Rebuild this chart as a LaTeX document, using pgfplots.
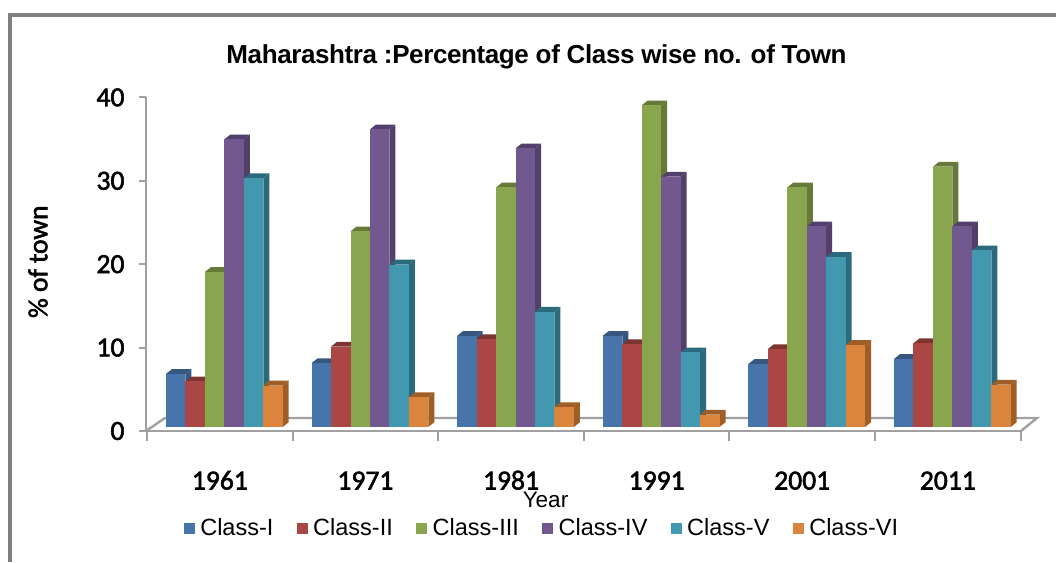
\documentclass[border=0pt]{standalone}
\usepackage{pgfplots}
\pgfplotsset{compat=1.18}
\usepackage{fontspec}
\setmainfont{Carlito}
\newfontfamily\semi[FakeBold=2]{Carlito}
\newfontfamily\lib{Liberation Sans}
\definecolor{cA}{HTML}{4674AB}\definecolor{dA}{HTML}{34567F}
\definecolor{cB}{HTML}{AA4643}\definecolor{dB}{HTML}{7E3431}
\definecolor{cC}{HTML}{89A54E}\definecolor{dC}{HTML}{657A39}
\definecolor{cD}{HTML}{71588F}\definecolor{dD}{HTML}{533F6B}
\definecolor{cE}{HTML}{4198AF}\definecolor{dE}{HTML}{2B6A7C}
\definecolor{cF}{HTML}{DB843D}\definecolor{dF}{HTML}{9E5E26}
\definecolor{gr}{HTML}{A0A0A0}
% #1 left edge of the bar (px), #2 value, #3 series letter
\newcommand\barD[3]{%
  \pgfmathsetmacro\xa{#1}%
  \pgfmathsetmacro\xb{#1+19.45}%
  \pgfmathsetmacro\xc{#1+19.45+6}%
  \pgfmathsetmacro\xd{#1+6}%
  \pgfmathsetmacro\xm{#1+9.725}%
  \pgfmathsetmacro\vt{#2+0.58}%
  \edef\temp{%
    \noexpand\addplot[fill=d#3,draw=none,forget plot] coordinates {(\xb,0) (\xc,0.58) (\xc,\vt) (\xb,#2)} --cycle;%
    \noexpand\addplot[fill=d#3,draw=none,forget plot] coordinates {(\xa,#2) (\xd,\vt) (\xc,\vt) (\xb,#2)} --cycle;%
    \noexpand\addplot[ybar,bar width=19.45pt,bar shift=0pt,fill=c#3,draw=none,forget plot] coordinates {(\xm,#2)};%
  }\temp}
% #1 left edge of the group, #2..#7 values
\newcommand\group[7]{%
  \pgfmathsetmacro\ga{#1}\pgfmathsetmacro\gb{#1+19.45}\pgfmathsetmacro\gc{#1+38.9}%
  \pgfmathsetmacro\gd{#1+58.35}\pgfmathsetmacro\ge{#1+77.8}\pgfmathsetmacro\gf{#1+97.25}%
  \edef\tempg{\noexpand\barD{\ga}{#2}{A}\noexpand\barD{\gb}{#3}{B}\noexpand\barD{\gc}{#4}{C}\noexpand\barD{\gd}{#5}{D}\noexpand\barD{\ge}{#6}{E}\noexpand\barD{\gf}{#7}{F}}\tempg}
\begin{document}
\begin{tikzpicture}[x=1pt,y=1pt]
\path[use as bounding box] (0,0) rectangle (1056,562);
% outer frame
\draw[line width=4pt,color=black!50] (10,0) -- (10,547) -- (1056,547);
% floor
\draw[line width=2.4pt,gr] (146,131) -- (165,144) -- (1037,144) -- (1021,131);
\begin{axis}[
  at={(146pt,131pt)},anchor=origin,
  x=1pt,y=8.34pt,
  xmin=146,xmax=1021,ymin=0,ymax=40,
  axis x line=bottom,axis y line=left,
  axis line style={-,line width=2.4pt,color=gr},
  xtick={219.8,365.4,511,656.6,802.2,947.8},
  xticklabels={1961,1971,1981,1991,2001,2011},
  minor xtick={147,292.6,438.2,583.8,729.4,875,1020.6},
  ytick={0,10,20,30,40},
  tick align=outside,
  major x tick style={draw=none},
  minor x tick style={line width=2pt,color=gr},
  minor tick length=10pt,
  y tick style={line width=2pt,color=gr},
  major tick length=7pt,
  /pgf/number format/assume math mode=true,
  /pgf/number format/1000 sep={},
  tick label style={font=\fontsize{27.6}{30}\semi,text=black},
  xticklabel style={yshift=-33.3pt,inner ysep=0pt,text height=18pt,text depth=0pt},
  yticklabel style={xshift=-11pt},
  title={\addfontfeature{LetterSpace=-1.5}Maharashtra :Percentage of Class wise no. of Town},
  title style={at={(axis cs:536.5,44.2)},anchor=center,yshift=0pt,font=\fontsize{26}{30}\lib\bfseries},
  xlabel={Year},
  xlabel style={at={(axis cs:545.5,-8.3)},anchor=center,inner sep=0pt,font=\fontsize{22.5}{24}\lib},
  ylabel={\% of town},
  ylabel style={at={(axis cs:38,20.3)},anchor=center,font=\fontsize{27.5}{30}\semi},
  legend style={at={(axis cs:542,-11.6)},anchor=center,draw=none,fill=none,
    legend columns=6,font=\fontsize{23.5}{26}\lib,
    /tikz/every odd column/.append style={column sep=4pt},
    /tikz/every even column/.append style={column sep=21.4pt}},
  legend image code/.code={\fill[#1] (0pt,-5pt) rectangle (10pt,5pt);},
]
\addlegendimage{cA}\addlegendentry{Class-I}
\addlegendimage{cB}\addlegendentry{Class-II}
\addlegendimage{cC}\addlegendentry{Class-III}
\addlegendimage{cD}\addlegendentry{Class-IV}
\addlegendimage{cE}\addlegendentry{Class-V}
\addlegendimage{cF}\addlegendentry{Class-VI}
\end{axis}
\begin{axis}[
  at={(146pt,135pt)},anchor=origin,
  x=1pt,y=8.29pt,
  xmin=146,xmax=1021,ymin=0,ymax=40,
  hide axis,clip=false,
]
\group{166}{6.4}{5.5}{18.7}{34.7}{30}{5}
\group{311.6}{7.7}{9.7}{23.6}{35.9}{19.6}{3.6}
\group{457.2}{11}{10.6}{28.9}{33.6}{13.9}{2.4}
\group{602.8}{11}{10}{38.8}{30.2}{9}{1.5}
\group{748.4}{7.6}{9.4}{28.9}{24.2}{20.5}{9.9}
\group{894}{8.2}{10.1}{31.4}{24.2}{21.3}{5.1}
\end{axis}
\end{tikzpicture}
\end{document}
